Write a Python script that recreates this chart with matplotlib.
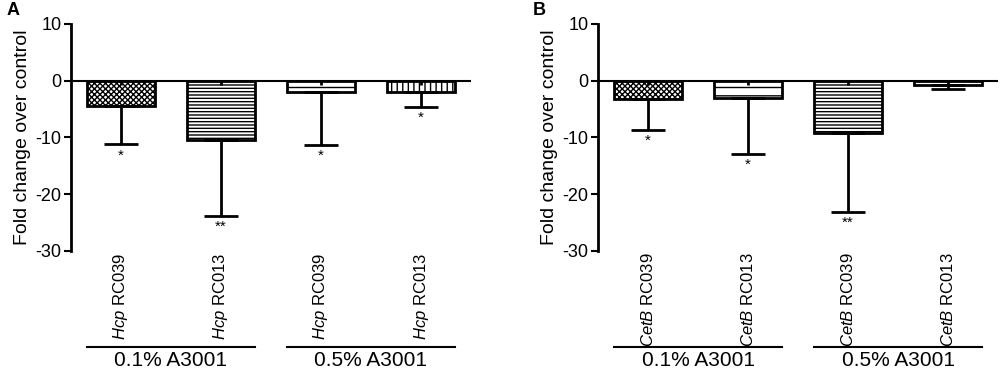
import matplotlib
matplotlib.use("Agg")
import matplotlib.pyplot as plt
import matplotlib.transforms as mtransforms

plt.rcParams['font.family'] = ['Liberation Sans', 'DejaVu Sans']
plt.rcParams['mathtext.fontset'] = 'custom'
plt.rcParams['mathtext.rm'] = 'Liberation Sans'
plt.rcParams['mathtext.it'] = 'Liberation Sans:italic'
plt.rcParams['hatch.linewidth'] = 1.0
plt.rcParams['axes.unicode_minus'] = False

# data
strains = ['RC039', 'RC013', 'RC039', 'RC013']
groups = ['0.1% A3001', '0.5% A3001']
genes = ['Hcp', 'CetB']

means_a = [-4.5, -10.4, -2.0, -2.0]
lows_a = [-11.2, -23.8, -11.3, -4.6]
stars_a = ['*', '**', '*', '*']

means_b = [-3.2, -3.0, -9.3, -0.7]
lows_b = [-8.6, -12.9, -23.1, -1.5]
stars_b = ['*', '*', '**', '']

hatches_a = ['xxxxxx', '-----', '--', '|||']
hatches_b = ['xxxxxx', '--', '-----', '--']

fig = plt.figure(figsize=(10, 3.69), dpi=100)
ax_a = fig.add_axes([0.071, 0.320, 0.400, 0.615])
ax_b = fig.add_axes([0.598, 0.320, 0.400, 0.615])


def draw_panel(ax, gene, means, lows, stars, hatches):
    x = list(range(len(means)))
    w = 0.68
    ax.bar(x, means, width=w, color='white', edgecolor='black',
           linewidth=2, hatch=hatches, zorder=2)
    err = [m - l for m, l in zip(means, lows)]
    ax.errorbar(x, means, yerr=[err, [0] * len(err)], fmt='none',
                ecolor='black', elinewidth=2, capsize=12.5, capthick=2, zorder=3)
    # short upper stub inside each bar
    ax.vlines(x, -0.8, 0, color='black', lw=2, zorder=3)
    ax.axhline(0, color='black', lw=1.5, zorder=4)

    for xi, lo, s in zip(x, lows, stars):
        if s:
            ax.annotate(s, (xi, lo), xytext=(0, -3), textcoords='offset points',
                        ha='center', va='top', fontsize=11)

    ax.set_xlim(-0.5, 3.5)
    ax.set_ylim(-30, 10)
    ax.set_yticks([-30, -20, -10, 0, 10])
    ax.tick_params(axis='y', length=5, width=1.5, labelsize=13, pad=2)
    ax.set_xticks([])
    for side in ['top', 'right', 'bottom']:
        ax.spines[side].set_visible(False)
    ax.spines['left'].set_linewidth(2)
    ax.set_ylabel('Fold change over control', fontsize=14, labelpad=3)

    trans = mtransforms.blended_transform_factory(ax.transData, ax.transAxes)
    for xi, s in zip(x, strains):
        ax.text(xi, -0.008, r'$\it{' + gene + '}$ ' + s, rotation=90,
                ha='center', va='top', fontsize=12, transform=trans)

    for gi, g in enumerate(groups):
        x0 = 2 * gi - w / 2
        x1 = 2 * gi + 1 + w / 2
        ax.plot([x0, x1], [-0.423, -0.423], color='black', lw=1.5,
                transform=trans, clip_on=False)
        ax.text((x0 + x1) / 2, -0.44, g, ha='center', va='top',
                fontsize=15, transform=trans)


draw_panel(ax_a, genes[0], means_a, lows_a, stars_a, hatches_a)
draw_panel(ax_b, genes[1], means_b, lows_b, stars_b, hatches_b)

fig.text(0.007, 0.995, 'A', fontsize=13, fontweight='bold', va='top')
fig.text(0.533, 0.995, 'B', fontsize=13, fontweight='bold', va='top')

fig.savefig('out.png', dpi=100)
